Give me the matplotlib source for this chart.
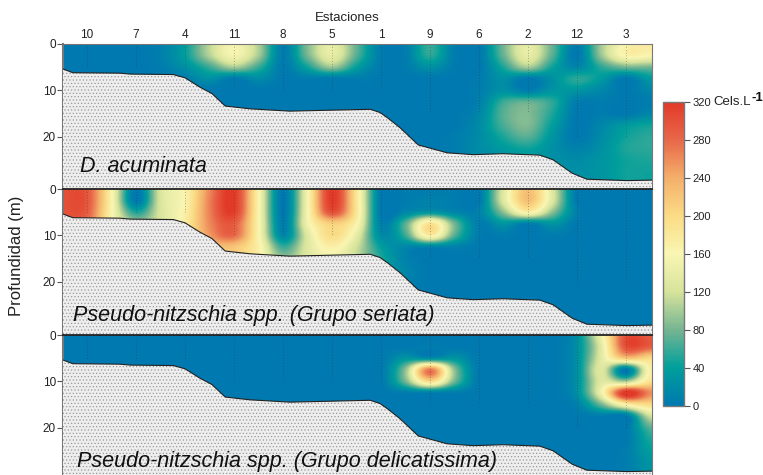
"""
Depth sections of cell counts along the transect, three taxa.
"""
import numpy as np
import matplotlib
matplotlib.use("Agg")
import matplotlib.pyplot as plt
from matplotlib.colors import LinearSegmentedColormap

plt.rcParams['font.family'] = ['Liberation Sans', 'DejaVu Sans']
plt.rcParams['hatch.linewidth'] = 0.5

estaciones = ['10', '7', '4', '11', '8', '5', '1', '9', '6', '2', '12', '3']
muestreo = [5, 5, 5, 10, 10, 10, 10, 15, 15, 15, 20, 20]
prof_ticks = [0, 10, 20]
cbar_ticks = [0, 40, 80, 120, 160, 200, 240, 280, 320]

fondo_x = [-0.49, -0.29, 0.67, 0.88, 1.76, 2.0, 2.3, 2.55, 2.82, 3.33, 4.14, 4.96, 5.78, 5.98, 6.14,
           6.39, 6.76, 7.35, 7.88, 8.49, 9.24, 9.51, 9.9, 10.2, 11.02, 11.53]
fondo_z = [5.4, 6.2, 6.3, 6.5, 6.6, 7.3, 9.3, 10.7, 13.4, 14.0, 14.5, 14.3, 14.1, 14.8, 16.0,
           18.1, 21.8, 23.5, 23.9, 23.7, 24.0, 25.0, 27.9, 29.2, 29.5, 29.4]

# grid: every half station, every 2.5 m
malla_x = [i * 0.5 - 0.5 for i in range(25)]
malla_z = [i * 2.5 for i in range(13)]

acuminata = [
    [0, 0, 0, 0, 8, 40, 110, 155, 105, 5, 85, 140, 75, 5, 5, 60, 5, 0, 80, 140, 75, 5, 100, 165, 175],
    [0, 0, 0, 0, 8, 40, 105, 155, 100, 5, 80, 140, 70, 5, 5, 55, 5, 0, 75, 140, 70, 0, 95, 165, 160],
    [0, 0, 0, 0, 5, 25, 60, 100, 60, 3, 45, 95, 40, 3, 3, 25, 3, 0, 50, 100, 45, 15, 55, 80, 80],
    [0, 0, 0, 0, 0, 5, 25, 0, 20, 0, 5, 0, 5, 0, 0, 0, 0, 3, 25, 0, 25, 55, 35, 0, 35],
    [0, 0, 0, 0, 0, 0, 0, 0, 0, 0, 0, 0, 0, 0, 0, 0, 0, 5, 25, 5, 30, 30, 15, 0, 15],
    [0, 0, 0, 0, 0, 0, 0, 0, 0, 0, 0, 0, 0, 0, 0, 0, 0, 8, 60, 75, 55, 5, 5, 0, 5],
    [0, 0, 0, 0, 0, 0, 0, 0, 0, 0, 0, 0, 0, 0, 0, 0, 0, 15, 70, 85, 50, 0, 5, 0, 15],
    [0, 0, 0, 0, 0, 0, 0, 0, 0, 0, 0, 0, 0, 0, 0, 0, 0, 20, 65, 85, 40, 0, 15, 35, 45],
    [0, 0, 0, 0, 0, 0, 0, 0, 0, 0, 0, 0, 0, 0, 0, 0, 5, 20, 50, 70, 30, 0, 20, 45, 55],
    [0, 0, 0, 0, 0, 0, 0, 0, 0, 0, 0, 0, 0, 0, 0, 0, 5, 20, 35, 45, 25, 10, 25, 50, 55],
    [0, 0, 0, 0, 0, 0, 0, 0, 0, 0, 0, 0, 0, 0, 0, 0, 5, 15, 25, 30, 25, 20, 30, 45, 50],
    [0, 0, 0, 0, 0, 0, 0, 0, 0, 0, 0, 0, 0, 0, 0, 0, 5, 15, 20, 25, 25, 25, 30, 45, 45],
    [0, 0, 0, 0, 0, 0, 0, 0, 0, 0, 0, 0, 0, 0, 0, 0, 5, 15, 20, 25, 25, 25, 30, 45, 45],
]

seriata = [
    [300, 295, 165, 0, 125, 165, 260, 320, 165, 0, 155, 320, 185, 0, 5, 5, 5, 0, 130, 225, 130, 0, 0, 0, 0],
    [300, 295, 165, 0, 125, 165, 265, 320, 165, 0, 155, 320, 185, 0, 5, 10, 5, 0, 130, 225, 130, 0, 0, 0, 0],
    [300, 290, 165, 50, 125, 170, 265, 315, 165, 0, 155, 300, 185, 0, 15, 30, 15, 10, 90, 170, 90, 10, 0, 0, 0],
    [290, 280, 165, 100, 125, 175, 260, 290, 165, 5, 150, 210, 165, 10, 70, 190, 80, 5, 30, 5, 30, 0, 0, 0, 0],
    [280, 270, 165, 120, 130, 180, 250, 280, 165, 15, 130, 200, 140, 20, 60, 175, 70, 5, 5, 0, 5, 0, 0, 0, 0],
    [260, 250, 165, 130, 140, 190, 220, 220, 170, 60, 130, 170, 120, 40, 15, 10, 10, 0, 0, 0, 0, 0, 0, 0, 0],
    [250, 240, 165, 130, 140, 180, 190, 220, 170, 90, 130, 150, 110, 50, 10, 0, 0, 0, 0, 0, 0, 0, 0, 0, 0],
    [250, 240, 165, 130, 140, 180, 190, 200, 170, 90, 130, 140, 100, 40, 15, 0, 0, 0, 0, 0, 0, 0, 0, 0, 0],
    [250, 240, 165, 130, 140, 180, 190, 200, 170, 90, 130, 140, 100, 30, 10, 0, 0, 0, 0, 0, 0, 0, 0, 0, 0],
    [250, 240, 165, 130, 140, 180, 190, 200, 170, 90, 130, 140, 100, 20, 5, 0, 0, 0, 0, 0, 0, 0, 0, 0, 0],
    [250, 240, 165, 130, 140, 180, 190, 200, 170, 90, 130, 140, 100, 20, 0, 0, 0, 0, 0, 0, 0, 0, 0, 0, 0],
    [250, 240, 165, 130, 140, 180, 190, 200, 170, 90, 130, 140, 100, 20, 0, 0, 0, 0, 0, 0, 0, 0, 0, 0, 0],
    [250, 240, 165, 130, 140, 180, 190, 200, 170, 90, 130, 140, 100, 20, 0, 0, 0, 0, 0, 0, 0, 0, 0, 0, 0],
]

delicatissima = [
    [0, 0, 0, 0, 0, 0, 0, 0, 0, 0, 0, 0, 0, 0, 0, 0, 0, 0, 0, 0, 0, 25, 150, 300, 290],
    [0, 0, 0, 0, 0, 0, 0, 0, 0, 0, 0, 0, 0, 0, 0, 5, 0, 0, 0, 0, 0, 25, 135, 300, 290],
    [0, 0, 0, 0, 0, 0, 0, 0, 0, 0, 0, 0, 0, 0, 30, 20, 30, 0, 0, 0, 0, 25, 135, 220, 200],
    [0, 0, 0, 0, 0, 0, 0, 0, 0, 0, 0, 0, 0, 0, 90, 270, 90, 0, 0, 0, 0, 25, 130, 0, 170],
    [0, 0, 0, 0, 0, 0, 0, 0, 0, 0, 0, 0, 0, 0, 80, 200, 80, 0, 0, 0, 0, 25, 130, 100, 190],
    [0, 0, 0, 0, 0, 0, 0, 0, 0, 0, 0, 0, 0, 0, 5, 5, 5, 0, 0, 0, 0, 25, 150, 330, 260],
    [0, 0, 0, 0, 0, 0, 0, 0, 0, 0, 0, 0, 0, 0, 0, 0, 0, 0, 0, 0, 0, 10, 80, 170, 200],
    [0, 0, 0, 0, 0, 0, 0, 0, 0, 0, 0, 0, 0, 0, 0, 0, 0, 0, 0, 0, 0, 0, 5, 0, 120],
    [0, 0, 0, 0, 0, 0, 0, 0, 0, 0, 0, 0, 0, 0, 0, 0, 0, 0, 0, 0, 0, 0, 0, 0, 70],
    [0, 0, 0, 0, 0, 0, 0, 0, 0, 0, 0, 0, 0, 0, 0, 0, 0, 0, 0, 0, 0, 0, 0, 0, 50],
    [0, 0, 0, 0, 0, 0, 0, 0, 0, 0, 0, 0, 0, 0, 0, 0, 0, 0, 0, 0, 0, 0, 0, 5, 40],
    [0, 0, 0, 0, 0, 0, 0, 0, 0, 0, 0, 0, 0, 0, 0, 0, 0, 0, 0, 0, 0, 0, 0, 5, 30],
    [0, 0, 0, 0, 0, 0, 0, 0, 0, 0, 0, 0, 0, 0, 0, 0, 0, 0, 0, 0, 0, 0, 0, 5, 30],
]

paneles = [
    ('D. acuminata', acuminata, 44, 189, 80, 166),
    ('Pseudo-nitzschia spp. (Grupo seriata)', seriata, 189, 335, 73, 315),
    ('Pseudo-nitzschia spp. (Grupo delicatissima)', delicatissima, 335, 475, 77, 461),
]

colores = ['#0079b0', '#009f9c', '#75b592', '#d6e39b', '#f9f6b2', '#fbdc86', '#f4b06b', '#e8684a', '#e23a28']
cmap = LinearSegmentedColormap.from_list('cels', colores, N=256)

W, H = 763, 475
fig = plt.figure(figsize=(W / 100, H / 100), dpi=100)


def px_axes(x0, y0, x1, y1):
    return fig.add_axes([x0 / W, 1 - y1 / H, (x1 - x0) / W, (y1 - y0) / H])


x = np.arange(len(estaciones))
for i, (nombre, valores, y0, y1, tx, ty) in enumerate(paneles):
    ax = px_axes(63, y0, 652, y1)
    extent = [malla_x[0] - 0.25, malla_x[-1] + 0.25, malla_z[-1] + 1.25, malla_z[0] - 1.25]
    # catrom goes through the grid values, bicubic flattens the peaks
    im = ax.imshow(np.array(valores, dtype=float), cmap=cmap, vmin=0, vmax=320, aspect='auto',
                   extent=extent, interpolation='catrom')
    ax.set_xlim(-0.49, 11.53)
    ax.set_ylim((y1 - y0) / 4.63, 0)

    # sampling depth at each station
    ax.vlines(x, 0, muestreo, color='#333333', lw=0.5, linestyles=(0, (1, 3)), alpha=0.7)

    ax.fill_between(fondo_x, fondo_z, 40, facecolor='#eeeeee', edgecolor='#999999',
                    hatch='.....', lw=0, zorder=3)
    ax.plot(fondo_x, fondo_z, color='#222222', lw=0.8, zorder=4)

    ax.set_yticks(prof_ticks)
    ax.tick_params(axis='y', length=4, width=0.8, color='#555555', labelsize=8.5, pad=1, labelcolor='#222222')
    if i == 0:
        ax.xaxis.tick_top()
        ax.set_xticks(x, estaciones)
        ax.tick_params(axis='x', length=0, labelsize=8.5, pad=2, labelcolor='#222222')
    else:
        ax.set_xticks([])

    for s in ['left', 'right', 'top', 'bottom']:
        ax.spines[s].set_color('#777777')
    ax.spines['left'].set_linewidth(1.5)
    ax.spines['bottom'].set_visible(False)
    if i > 0:
        ax.spines['top'].set_color('#222222')
        ax.spines['top'].set_linewidth(1.3)

    fig.text(tx / W, 1 - ty / H, nombre, style='italic', fontsize=15.5, color='#111111',
             va='center', ha='left', zorder=10)

fig.text(347 / W, 1 - 18 / H, 'Estaciones', fontsize=9.5, ha='center', va='center', color='#222222')
fig.text(17 / W, 1 - 256 / H, 'Profundidad (m)', fontsize=12, rotation=90, ha='center', va='center',
         color='#222222')

cax = px_axes(663, 102, 684, 406)
cb = fig.colorbar(im, cax=cax, ticks=cbar_ticks)
cb.ax.tick_params(length=4, width=0.8, color='#555555', labelsize=8, pad=2, labelcolor='#222222')
cb.outline.set_edgecolor('#777777')
cb.outline.set_linewidth(1)

fig.text(713 / W, 1 - 102 / H, 'Cels.L', fontsize=9.5, ha='left', va='center', color='#222222')
fig.text(751 / W, 1 - 98 / H, '-1', fontsize=9.5, fontweight='bold', ha='left', va='center', color='#111111')

fig.savefig('out.png', dpi=100)
